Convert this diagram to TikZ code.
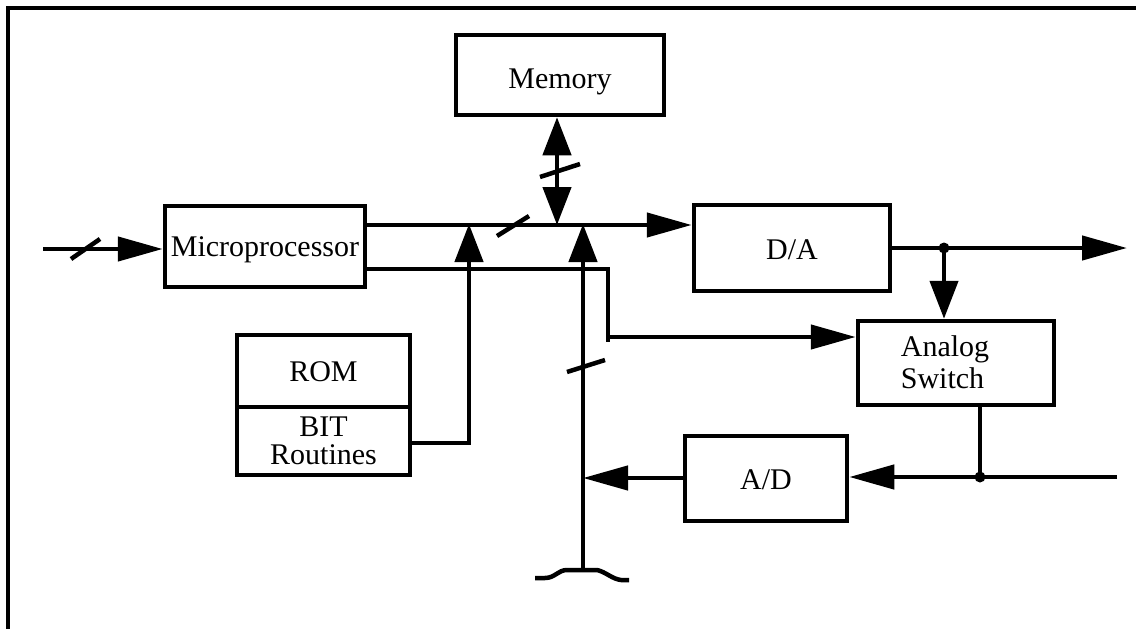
\documentclass[tikz,border=0pt]{standalone}
\usepackage{fontspec}
\setmainfont{Liberation Serif}
\usetikzlibrary{arrows.meta}
\tikzset{
  blk/.style={draw, line width=4.5pt, inner sep=0pt},
  wire/.style={line width=4.5pt},
  harr/.style={-{Triangle[length=45pt,width=24pt]}},
  varr/.style={-{Triangle[length=38pt,width=28pt]}},
  dbarr/.style={{Triangle[length=38pt,width=28pt]}-{Triangle[length=38pt,width=28pt]}},
  slashmark/.style={line width=4.5pt},
  jdot/.style={circle, fill, inner sep=0pt, minimum size=11pt},
  lbl/.style={inner sep=0pt, font=\fontsize{30}{32}\selectfont}
}
\begin{document}
\begin{tikzpicture}[x=1pt,y=-1pt]
\useasboundingbox (0,0) rectangle (1136,629);
% frame
\draw[line width=4.5pt] (8,640) -- (8,8) -- (1145,8);

% blocks
\node[blk, minimum width=208pt, minimum height=80pt] (mem) at (560,75) {};
\node[lbl] at (560,82) {Memory};
\node[blk, minimum width=200pt, minimum height=81pt] (mp) at (265,246.5) {};
\node[lbl] at (265,250) {Microprocessor};
\node[blk, minimum width=173pt, minimum height=72pt] (rom) at (323.5,371) {};
\node[lbl] at (323.5,372) {ROM};
\node[blk, minimum width=173pt, minimum height=68pt] (bit) at (323.5,441) {};
\node[lbl, align=center, font=\fontsize{30}{28}\selectfont] at (323.5,441) {BIT\\Routines};
\node[blk, minimum width=196pt, minimum height=86pt] (da) at (792,248) {};
\node[lbl] at (792,250) {D/A};
\node[blk, minimum width=196pt, minimum height=84pt] (sw) at (956,363) {};
\node[lbl, align=left, font=\fontsize{30}{32}\selectfont] at (945,362) {Analog\\Switch};
\node[blk, minimum width=162pt, minimum height=85pt] (ad) at (766,478.5) {};
\node[lbl] at (766,480) {A/D};

% junction coordinates
\coordinate (in) at (43,249);
\coordinate (jb) at (469,224);
\coordinate (jm) at (557,225);
\coordinate (jv) at (583,224);
\coordinate (vb) at (583,570);
\coordinate (c1) at (608,269);
\coordinate (c2) at (608,337);
\coordinate (c3) at (608,342);
\coordinate (jbit) at (469,443);
\coordinate (out) at (1127,248);
\coordinate (d1) at (944,248);
\coordinate (d2) at (980,477);
\coordinate (rin) at (1117,477);
\coordinate (jad) at (583,478);

% input
\draw[wire, harr] (in) -- (in -| mp.west);
\draw[slashmark] (71,259) -- (100,239);

% bus
\draw[wire, harr] (mp.east |- 0,225) -- (da.west |- 0,225);
\draw[slashmark] (497,236) -- (529,216);

% memory
\draw[wire, dbarr] (jm |- mem.south) -- (jm);
\draw[slashmark] (540,177) -- (580,164);

% BIT routines to bus
\draw[wire, varr] (bit.east |- jbit) -- (jbit) -- (jb);

% vertical bus
\draw[wire, varr] (vb) -- (jv);
\draw[slashmark] (567,372) -- (605,360);
\draw[wire] (535,578) -- (545,578) .. controls (555,578) and (558,570) .. (567,570) -- (597,570) .. controls (606,572) and (612,579) .. (621,580) -- (629,580);

% second microprocessor output to analog switch
\draw[wire] (mp.east |- c1) -- (c1) -- (c3);
\draw[wire, harr] (c2) -- (c2 -| sw.west);

% D/A output
\draw[wire, harr] (da.east |- out) -- (out);
\node[jdot] (dot1) at (d1) {};
\draw[wire, varr] (dot1.center) -- (dot1.center |- sw.north);

% analog switch to A/D
\draw[wire] (d2 |- sw.south) -- (d2);
\node[jdot] (dot2) at (d2) {};
\draw[wire, harr] (rin) -- (rin -| ad.east);

% A/D to bus
\draw[wire, harr] (ad.west |- jad) -- (jad);
\end{tikzpicture}
\end{document}
